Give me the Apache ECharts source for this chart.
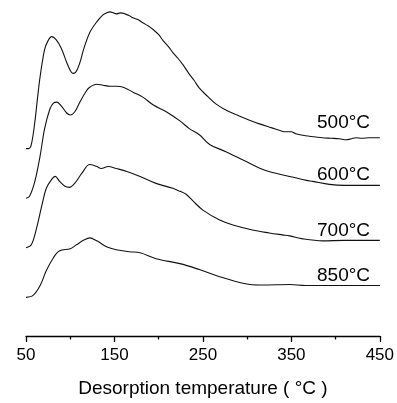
<!DOCTYPE html>
<html>
<head>
<meta charset="utf-8">
<script src="https://cdn.jsdelivr.net/npm/echarts@6/dist/echarts.min.js"></script>
<style>
  html, body { margin: 0; padding: 0; background: #fff; }
  #chart { width: 397px; height: 403px; }
</style>
</head>
<body>
<div id="chart"></div>
<script>
// TPD curves, offset vertically (intensity in a.u.), x = desorption temperature
const curve500 = [
  [50,189],[53,189],[56,193],[60,216],[63,240],[66,262],[71,289],[75,298],[79,302],[84,299],
  [90,290],[96,276],[100,268],[103,265],[106,266],[109,271],[112,279],[115,289],[122,306],
  [130,317],[137,324],[141,326],[145,327],[149,326],[152,325],[157,326],[162,325],[167,323],
  [171,321],[177,319],[182,316],[188,313],[194,309],[200,304],[205,298],[211,292],[216,286],
  [222,280],[228,273],[234,265],[240,258],[246,250],[255,242],[265,234],[278,227],[291,222],
  [302,218],[314,214],[328,210],[338,207],[344,206],[350,206],[355,204],[366,202],[376,201],
  [385,200],[395,199.5],[404,199],[412,198],[418,199],[423,200],[430,199.5],[438,200],[444,200],[450,200]
];
const curve600 = [
  [50,139],[54,141],[60,156],[66,182],[71,209],[77,229],[81,235],[85,236],[90,232],[96,225],
  [100,223],[105,226],[111,236],[118,247],[122,251],[130,254],[137,253],[145,252],[152,252],
  [160,251],[171,246],[182,241],[194,233],[209,226],[224,217],[235,209],[246,203],[258,193],
  [276,186],[299,176],[321,167],[348,161],[367,157],[374,156],[393,153],[410,152],[450,152]
];
const curve700 = [
  [50,89],[56,92],[62,109],[68,132],[73,149],[79,158],[83,161],[88,156],[94,151],[99,150],
  [105,154],[113,164],[122,173],[130,171],[135,169],[143,171],[152,169],[164,166],[179,161],
  [197,154],[216,149],[224,146],[231,143],[239,136],[250,127],[269,117],[284,112],[306,107],
  [325,104],[340,102],[348,101],[363,98],[385,96],[410,96.5],[450,96.5]
];
const curve850 = [
  [50,39],[58,41],[66,51],[73,66],[81,79],[88,86],[100,88],[107,92],[116,97],[122,99],
  [130,96],[141,90],[152,87],[167,85],[179,84],[197,78],[224,73],[246,67],[272,59],[303,52],
  [318,51.5],[348,52],[366,51],[400,51],[450,51]
];

const xTicks = [50, 450, 100];          // min, max, labelled step
const curveNames = ['500°C', '600°C', '700°C', '850°C'];
const labelPos = [[409, 215], [409, 163], [409, 106], [409, 61]];

const chart = echarts.init(document.getElementById('chart'));

const lineSeries = [curve500, curve600, curve700, curve850].map((d, i) => ({
  name: curveNames[i],
  type: 'line',
  data: d,
  showSymbol: false,
  smooth: 0.35,
  lineStyle: { color: '#111', width: 1.1 },
  silent: true,
  animation: false
}));

const option = {
  animation: false,
  grid: { left: 26, right: 16.5, top: 0, bottom: 64 },
  xAxis: {
    type: 'value',
    min: xTicks[0],
    max: xTicks[1],
    interval: xTicks[2],
    name: 'Desorption temperature ( °C )',
    nameLocation: 'middle',
    nameGap: 43,
    nameTextStyle: { fontFamily: 'Liberation Sans', fontSize: 19, color: '#000' },
    axisLine: { show: true, lineStyle: { color: '#000', width: 1.3 } },
    axisTick: { show: true, inside: false, length: 6, lineStyle: { color: '#000', width: 1.3 } },
    minorTick: { show: true, splitNumber: 2, length: 3.5, lineStyle: { color: '#000', width: 1.3 } },
    axisLabel: { margin: 11, fontFamily: 'Liberation Sans', fontSize: 17, color: '#000' },
    splitLine: { show: false }
  },
  yAxis: {
    type: 'value',
    min: 0,
    max: 339,
    show: false,
    splitLine: { show: false }
  },
  series: lineSeries.concat([{
    type: 'scatter',
    data: labelPos.map((p, i) => ({ value: p, name: curveNames[i] })),
    symbolSize: 0,
    silent: true,
    itemStyle: { opacity: 1 },
    label: {
      show: true,
      position: 'inside',
      formatter: p => p.name,
      fontFamily: 'Liberation Sans',
      fontSize: 19,
      color: '#000',
      opacity: 1
    }
  }])
};

chart.setOption(option);
</script>
</body>
</html>
